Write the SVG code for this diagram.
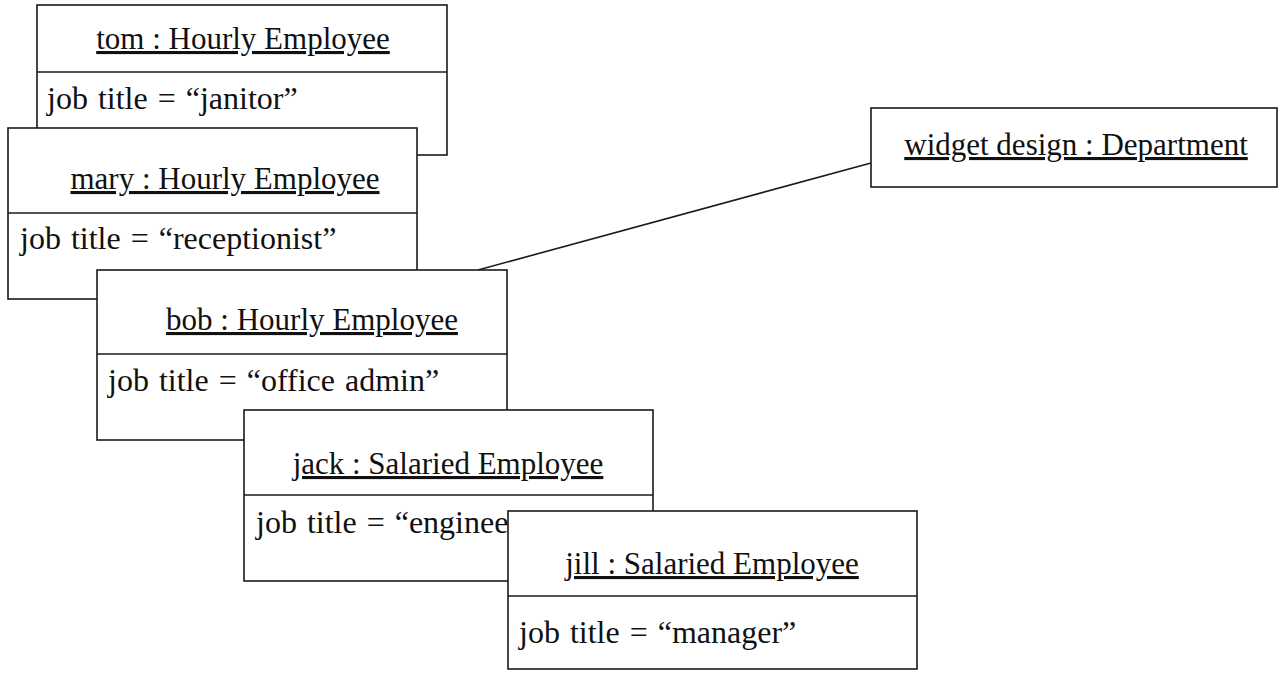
<svg xmlns="http://www.w3.org/2000/svg" width="1278" height="673" viewBox="0 0 1278 673">
<style>
.box{fill:#fff;stroke:#1a1a1a;stroke-width:1.6}
.div{stroke:#1a1a1a;stroke-width:1.3}
.t{font-family:"Liberation Serif","Times New Roman",serif;font-size:31px;fill:#111}
.attr{font-size:32px;word-spacing:2px}
.title{text-anchor:middle;text-decoration:underline}
.conn{stroke:#1a1a1a;stroke-width:1.6;fill:none}
</style>
<rect width="1278" height="673" fill="#fff"/>
<g id="tom">
<rect class="box" x="37" y="5" width="410" height="150"/>
<line class="div" x1="37" y1="72" x2="447" y2="72"/>
<text class="t title" x="243" y="49">tom : Hourly Employee</text>
<text class="t attr" x="47" y="109">job title = “janitor”</text>
</g>
<g id="mary">
<rect class="box" x="8" y="128" width="409" height="171"/>
<line class="div" x1="8" y1="213" x2="417" y2="213"/>
<text class="t title" x="225" y="189">mary : Hourly Employee</text>
<text class="t attr" x="20" y="249">job title = “receptionist”</text>
</g>
<g id="connectors">
<line class="conn" x1="478" y1="270" x2="871" y2="163"/>
</g>
<g id="bob">
<rect class="box" x="97" y="270" width="410" height="170"/>
<line class="div" x1="97" y1="354" x2="507" y2="354"/>
<text class="t title" x="312" y="330">bob : Hourly Employee</text>
<text class="t attr" x="108" y="391">job title = “office admin”</text>
</g>
<g id="jack">
<rect class="box" x="244" y="410" width="409" height="171"/>
<line class="div" x1="244" y1="495" x2="653" y2="495"/>
<text class="t title" x="448" y="474">jack : Salaried Employee</text>
<text class="t attr" x="256" y="533">job title = “engineer”</text>
</g>
<g id="jill">
<rect class="box" x="508" y="511" width="409" height="158"/>
<line class="div" x1="508" y1="596" x2="917" y2="596"/>
<text class="t title" x="712" y="574">jill : Salaried Employee</text>
<text class="t attr" x="519" y="643">job title = “manager”</text>
</g>
<g id="widget">
<rect class="box" x="871" y="108" width="406" height="79"/>
<text class="t title" x="1076" y="155">widget design : Department</text>
</g>
</svg>
